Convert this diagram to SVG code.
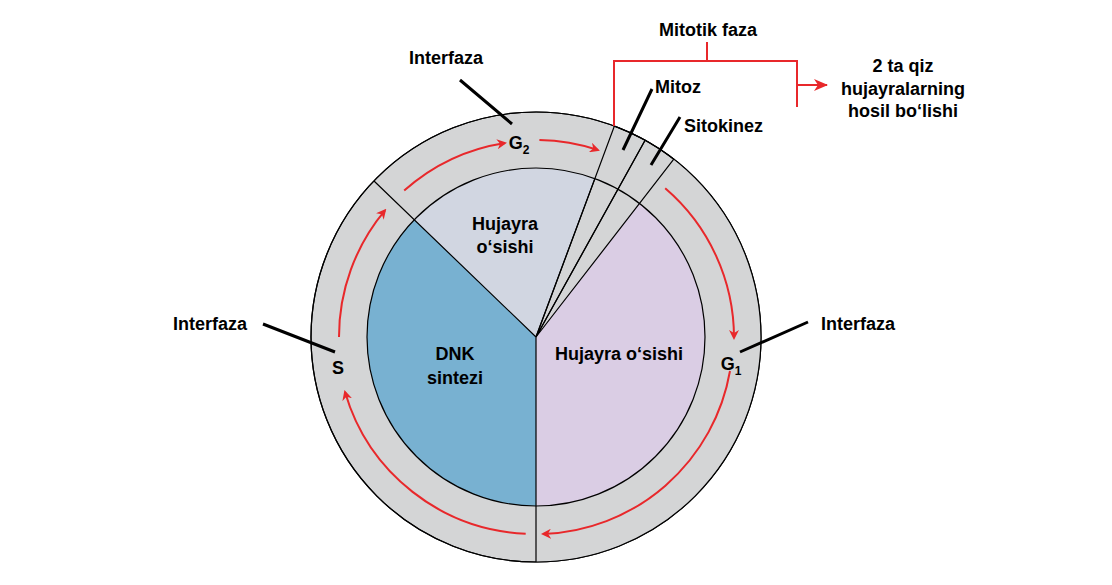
<svg xmlns="http://www.w3.org/2000/svg" width="1112" height="585" viewBox="0 0 1112 585">
<style>
text{font-family:"Liberation Sans",Arial,sans-serif;font-weight:bold;font-size:18px;fill:#000}
.c{text-anchor:middle}
.k{stroke:#000;stroke-width:1.2;fill:none}
.l{stroke:#000;stroke-width:3;fill:none}
.r{stroke:#e8282b;stroke-width:2;fill:none}
</style>
<defs><marker id="a" markerWidth="10" markerHeight="10" refX="8" refY="5" orient="auto" markerUnits="userSpaceOnUse" viewBox="0 0 10 10"><path d="M0,0L10,5L0,10L3,5Z" fill="#e8282b"/></marker>
<marker id="b" markerWidth="14" markerHeight="12" refX="13" refY="6" orient="auto" markerUnits="userSpaceOnUse" viewBox="0 0 14 12"><path d="M0,0L14,6L0,12L4,6Z" fill="#e8282b"/></marker></defs>
<g id="cycle">
<circle cx="536" cy="337" r="225" fill="#d4d5d6" stroke="#000" stroke-width="1.2"/>
<path d="M536,337 L536,506 A169,169 0 0 1 414.4,219.6 Z" fill="#78b1d1"/>
<path d="M536,337 L414.4,219.6 A169,169 0 0 1 594.9,178.6 Z" fill="#d1d6e1"/>
<path d="M536,337 L673.8,159.2 A225,225 0 0 1 536,562 Z M536,337" fill="#d4d5d6"/>
<path d="M536,337 L639.5,203.4 A169,169 0 0 1 536,506 Z" fill="#dacde4"/>
<path d="M536,337 L614.4,126.1 A225,225 0 0 1 645.1,140.3 Z" fill="#f6c8b0" class="k"/>
<path d="M536,337 L645.1,140.3 A225,225 0 0 1 673.8,159.2 Z" fill="#f6c8b0" class="k"/>
<circle cx="536" cy="337" r="169" class="k"/>
<circle cx="536" cy="337" r="225" class="k"/>
<path class="k" d="M536,337 L536,562 M536,337 L374,181 M536,337 L594.9,178.6"/>
</g>
<g id="arrows">
<path class="r" marker-end="url(#a)" d="M730,371 A197,197 0 0 1 543,534"/>
<path class="r" marker-end="url(#a)" d="M525.7,533.7 A197,197 0 0 1 345,392"/>
<path class="r" marker-end="url(#a)" d="M339,337 A197,197 0 0 1 385,210.4"/>
<path class="r" marker-end="url(#a)" d="M404.2,190.6 A197,197 0 0 1 505,143"/>
<path class="r" marker-end="url(#a)" d="M539.4,140 A197,197 0 0 1 598,150"/>
<path class="r" marker-end="url(#a)" d="M665.2,188.3 A197,197 0 0 1 734,338"/>
<path class="r" d="M614,126 V61 H797 V107 M707,61 V42"/>
<path class="r" marker-end="url(#b)" d="M797,85 H827"/>
</g>
<g id="leaders">
<path class="l" d="M460,80 L512,124 M263,324 L335,352 M808,322 L740,352 M652,89 L623,150 M680,117 L651,165"/>
</g>
<g id="labels">
<text class="c" x="708" y="36">Mitotik faza</text>
<text class="c" x="903" y="72">2 ta qiz</text>
<text class="c" x="903" y="95">hujayralarning</text>
<text class="c" x="903" y="117">hosil bo‘lishi</text>
<text x="655" y="93">Mitoz</text>
<text x="684" y="132">Sitokinez</text>
<text class="c" x="446" y="64">Interfaza</text>
<text class="c" x="210" y="330">Interfaza</text>
<text class="c" x="858" y="330">Interfaza</text>
<text class="c" x="519" y="149">G<tspan font-size="12" dy="5">2</tspan></text>
<text class="c" x="731" y="370">G<tspan font-size="12" dy="5">1</tspan></text>
<text class="c" x="338" y="374">S</text>
<text class="c" x="505" y="230">Hujayra</text>
<text class="c" x="505" y="253">o‘sishi</text>
<text class="c" x="455" y="360">DNK</text>
<text class="c" x="455" y="384">sintezi</text>
<text class="c" x="619" y="360">Hujayra o‘sishi</text>
</g>
</svg>
